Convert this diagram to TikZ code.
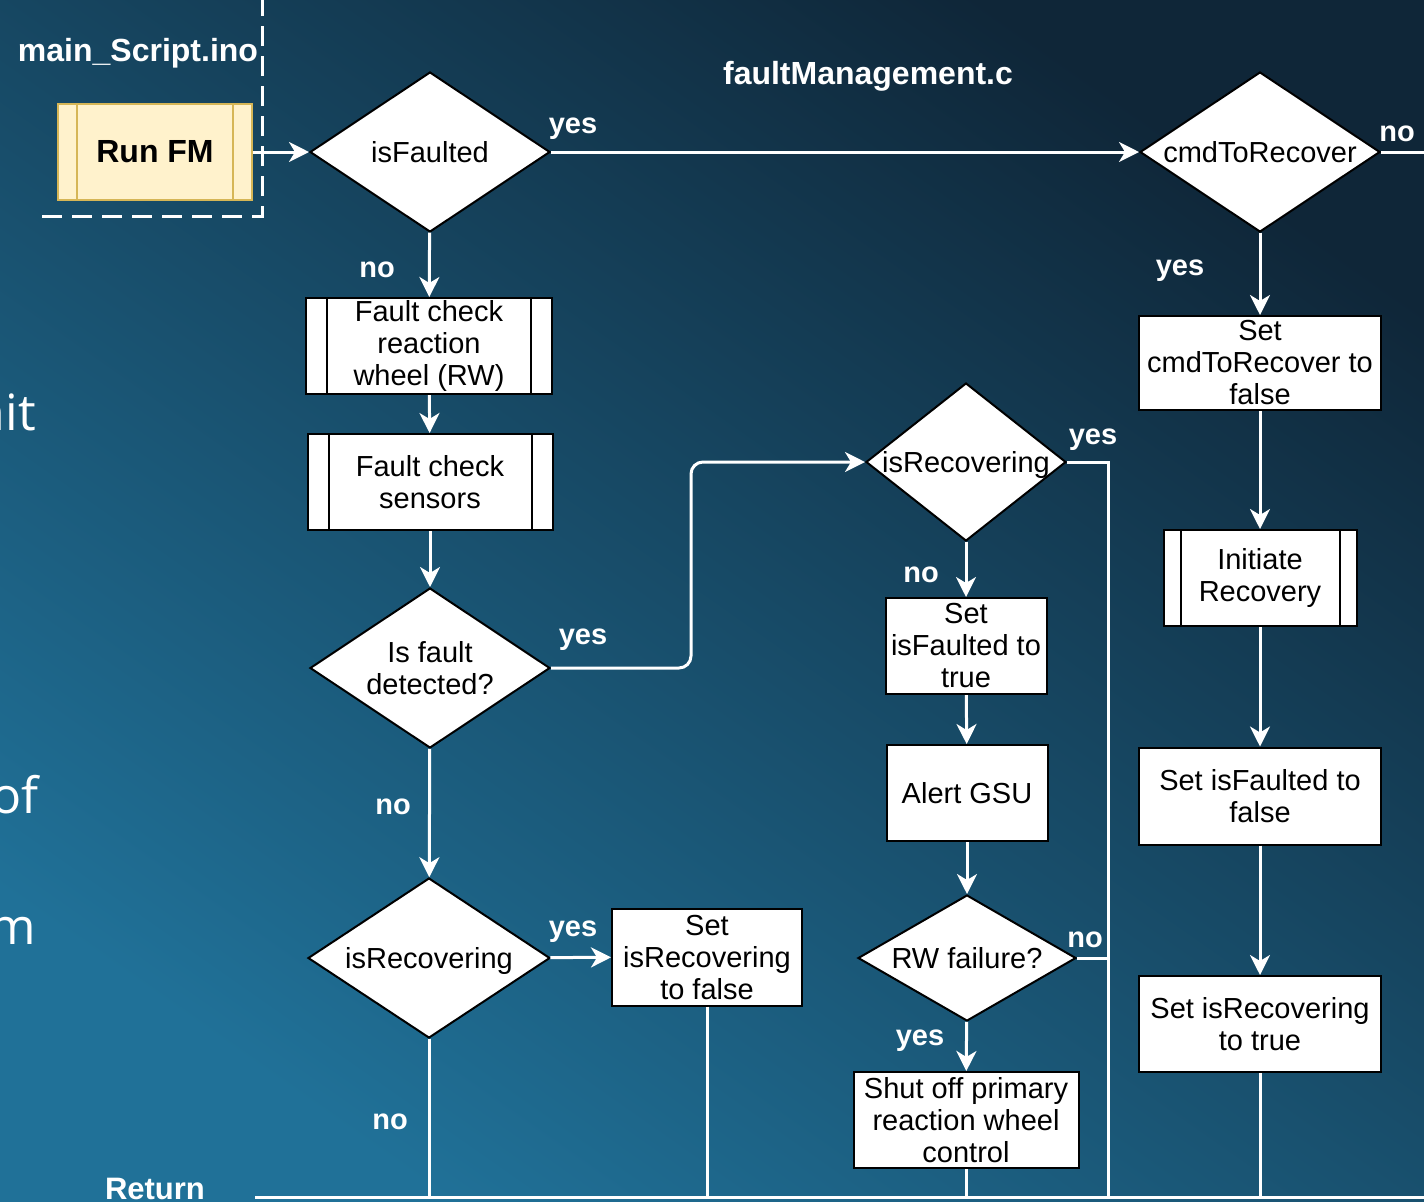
\documentclass[tikz,border=0pt]{standalone}
\usepackage{fontspec}
\setmainfont{Liberation Sans}
\newfontfamily\slidefont{Open Sans}
\usetikzlibrary{arrows.meta, shapes.geometric}

\definecolor{bgdark}{RGB}{15,38,56}
\definecolor{bglight}{RGB}{32,113,152}
\definecolor{fmfill}{RGB}{255,242,204}
\definecolor{fmborder}{RGB}{214,182,86}

% text of a decision that may run over the diamond edges
\newcommand{\dtext}[1]{\makebox[0pt]{\raisebox{-2pt}[\height][\depth]{\begin{tabular}{@{}c@{}}#1\end{tabular}}}}

\tikzset{
  process/.style={draw=black, line width=1pt, fill=white, align=center, inner sep=1pt,
    font=\fontsize{14.5}{16}\selectfont},
  decision/.style={diamond, draw=black, line width=1pt, fill=white, inner sep=0pt,
    font=\fontsize{14.5}{16}\selectfont},
  flow/.style={draw=white, line width=1.5pt, -{Stealth[length=10pt,width=10pt,inset=3pt]}},
  plain/.style={draw=white, line width=1.5pt},
  lbl/.style={text=white, font=\bfseries\fontsize{14.5}{16}\selectfont},
  title/.style={text=white, font=\bfseries\fontsize{16}{18}\selectfont},
  slide/.style={text=white, anchor=base east, font=\slidefont\fontsize{25}{30}\selectfont},
}

\begin{document}
\begin{tikzpicture}[x=0.5pt, y=-0.5pt]
    % Background
    \shade[shading=axis, top color=bgdark, bottom color=bglight, shading angle=-35] (0,0) rectangle (1424,1201);
    \useasboundingbox (0,0) rectangle (1424,1201);

    % Slide text cut off at the left
    \node[slide] (fragit) at (43,430) {nit};
    \node[slide] (fragof) at (46,813) {of};
    \node[slide] (fragom) at (43,944) {om};

    % main_Script.ino frame
    \draw[white, line width=1.5pt, dash pattern=on 10pt off 5pt] (42,216) -- (262,216) -- (262,-10);
    \node[title] (mainlbl) at (138,53) {main\_Script.ino};
    \node[draw=fmborder, line width=1pt, fill=fmfill, minimum width=97pt, minimum height=48pt,
      font=\bfseries\fontsize{16}{18}\selectfont] (runfm) at (155,152) {Run FM};
    \draw[fmborder, line width=1pt] ([xshift=10pt]runfm.north west) -- ([xshift=10pt]runfm.south west);
    \draw[fmborder, line width=1pt] ([xshift=-10pt]runfm.north east) -- ([xshift=-10pt]runfm.south east);

    \node[title] (fmlbl) at (868,76) {faultManagement.c};

    % Decisions
    \node[decision, minimum width=120pt, minimum height=80pt] (isfaulted) at (430,152) {\dtext{isFaulted}};
    \node[decision, minimum width=120pt, minimum height=80pt] (cmdrec) at (1260,152) {\dtext{cmdToRecover}};
    \node[decision, minimum width=120pt, minimum height=80pt] (fault) at (430,668) {\dtext{Is fault\\detected?}};
    \node[decision, minimum width=100pt, minimum height=79pt] (isrecA) at (966,462) {\dtext{isRecovering}};
    \node[decision, minimum width=109pt, minimum height=63pt] (rwfail) at (967,958) {\dtext{RW failure?}};
    \node[decision, minimum width=121pt, minimum height=80pt] (isrecB) at (429,958) {\dtext{isRecovering}};

    % Processes
    \node[process, minimum width=123pt, minimum height=48pt] (fcrw) at (429,346) {Fault check\\reaction\\wheel (RW)};
    \node[process, minimum width=122.5pt, minimum height=48pt] (fcs) at (430,482) {Fault check\\sensors};
    \node[process, minimum width=80.5pt, minimum height=48pt] (setfaulted) at (966,646) {Set\\isFaulted to\\true};
    \node[process, minimum width=80.5pt, minimum height=48pt] (alert) at (967,793) {Alert GSU};
    \node[process, minimum width=112.5pt, minimum height=48pt] (shutoff) at (966,1120) {Shut off primary\\reaction wheel\\control};
    \node[process, minimum width=121pt, minimum height=47pt] (setcmd) at (1260,363) {Set\\cmdToRecover to\\false};
    \node[process, minimum width=96.5pt, minimum height=48pt] (initrec) at (1260,578) {Initiate\\Recovery};
    \node[process, minimum width=121pt, minimum height=48.5pt] (setfalse) at (1260,796) {Set isFaulted to\\false};
    \node[process, minimum width=121pt, minimum height=48pt] (setrectrue) at (1260,1024) {Set isRecovering\\to true};
    \node[process, minimum width=95pt, minimum height=48.5pt] (setrecfalse) at (707,957) {Set\\isRecovering\\to false};

    % Subroutine bars
    \foreach \n/\d in {fcrw/11pt, fcs/11pt, initrec/9pt} {
      \draw[black, line width=1pt] ([xshift=\d]\n.north west) -- ([xshift=\d]\n.south west);
      \draw[black, line width=1pt] ([xshift=-\d]\n.north east) -- ([xshift=-\d]\n.south east);
    }

    % Return line and its ends
    \coordinate (retL) at (255,1197);
    \coordinate (retR) at (1430,1197);
    \coordinate (mergeR) at (1108,1197);
    \coordinate (exitR) at (1430,152);
    \node[lbl, font=\bfseries\fontsize{15.5}{18}\selectfont] (retlbl) at (155,1189) {Return};
    \draw[plain] (retL) -- (retR);

    % Connectors
    \draw[flow] (runfm) -- (isfaulted);
    \draw[flow] (isfaulted) -- (cmdrec);
    \draw[plain] (cmdrec.east) -- (exitR);
    \draw[flow] (isfaulted) -- (fcrw);
    \draw[flow] (fcrw) -- (fcs);
    \draw[flow] (fcs) -- (fault);
    \draw[flow, rounded corners=6pt] (fault.east) -- ++(140,0) |- (isrecA.west);
    \draw[flow] (fault) -- (isrecB);
    \draw[flow] (isrecB) -- (setrecfalse);
    \draw[plain] (isrecB.south) -- (isrecB.south |- retL);
    \draw[plain] (setrecfalse.south) -- (setrecfalse.south |- retL);
    \draw[flow] (isrecA) -- (setfaulted);
    \draw[plain] (isrecA.east) -| (mergeR);
    \draw[flow] (setfaulted) -- (alert);
    \draw[flow] (alert) -- (rwfail);
    \draw[plain] (rwfail.east) -- (rwfail.east -| mergeR);
    \draw[flow] (rwfail) -- (shutoff);
    \draw[plain] (shutoff.south) -- (shutoff.south |- retL);
    \draw[flow] (cmdrec) -- (setcmd);
    \draw[flow] (setcmd) -- (initrec);
    \draw[flow] (initrec) -- (setfalse);
    \draw[flow] (setfalse) -- (setrectrue);
    \draw[plain] (setrectrue.south) -- (setrectrue.south |- retL);

    % Branch labels
    \node[lbl] (l1) at (573,129) {yes};
    \node[lbl] (l2) at (377,270) {no};
    \node[lbl] (l3) at (1180,271) {yes};
    \node[lbl] (l4) at (1397,134) {no};
    \node[lbl] (l5) at (583,640) {yes};
    \node[lbl] (l6) at (1093,440) {yes};
    \node[lbl] (l7) at (921,575) {no};
    \node[lbl] (l8) at (393,807) {no};
    \node[lbl] (l9) at (573,932) {yes};
    \node[lbl] (l10) at (390,1122) {no};
    \node[lbl] (l11) at (1085,940) {no};
    \node[lbl] (l12) at (920,1041) {yes};
\end{tikzpicture}
\end{document}
